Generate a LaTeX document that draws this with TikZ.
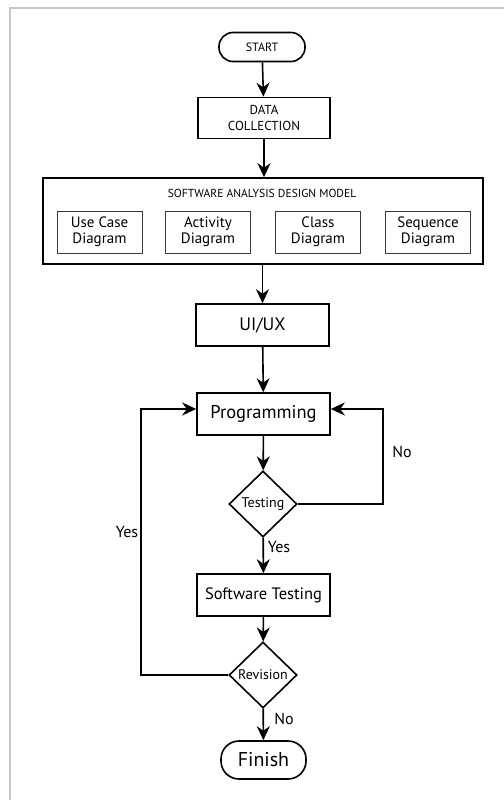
\documentclass[tikz,border=0pt]{standalone}
\usepackage{fontspec}
\setmainfont{PT Sans}
\usetikzlibrary{shapes.geometric,arrows.meta}
\definecolor{framegray}{HTML}{C8C8C8}
\definecolor{inkgray}{HTML}{3A3A3A}
\tikzset{
  box/.style={draw, line width=1.6bp, minimum width=133bp, minimum height=42bp, inner sep=2bp, align=center},
  subbox/.style={draw=inkgray, line width=1bp, minimum width=85bp, minimum height=42bp, inner sep=1bp, align=center, font=\fontsize{15bp}{16bp}\selectfont},
  term/.style={draw, line width=1.6bp, rounded corners=14bp, inner sep=0pt},
  decision/.style={draw, diamond, aspect=1, line width=1.6bp, minimum width=68bp, minimum height=66bp, inner sep=0pt, font=\fontsize{14bp}{15bp}\selectfont},
  arr/.style={line width=1.6bp, -{Stealth[length=14bp,width=13bp,inset=4.5bp]}},
  lab/.style={font=\fontsize{16bp}{17bp}\selectfont},
}
\begin{document}
\begin{tikzpicture}[x=1bp,y=-1bp]
\useasboundingbox (0,0) rectangle (504,800);
% light frame along the top and left edges
\draw[framegray, line width=1.5bp] (10,800) -- (10,8) -- (504,8);

% main column
\node[term, minimum width=86bp, minimum height=29bp, font=\fontsize{12bp}{13bp}\selectfont] (start) at (262,47) {START};
\node[box, minimum width=132bp, minimum height=41bp, font=\fontsize{13bp}{16bp}\selectfont] (data) at (264,118) {DATA\\COLLECTION};

\node[draw, line width=1.6bp, minimum width=440bp, minimum height=86bp] (model) at (263,221) {};
\node[font=\fontsize{11.6bp}{12bp}\selectfont] (modeltitle) at (262,193) {SOFTWARE ANALYSIS DESIGN MODEL};
\node[subbox] (usecase) at (99.5,232) {Use Case\\Diagram};
\node[subbox] (activity) at (208,232) {Activity\\Diagram};
\node[subbox] (class) at (318,232) {Class\\Diagram};
\node[subbox] (sequence) at (428,232) {Sequence\\Diagram};

\node[box, font=\fontsize{18bp}{20bp}\selectfont] (uiux) at (262.5,325) {UI/UX};
\node[box, font=\fontsize{18.5bp}{20bp}\selectfont] (prog) at (263.5,414) {Programming};
\node[decision] (testing) at (263,504) {Testing};
\node[box, font=\fontsize{16.5bp}{18bp}\selectfont] (swtest) at (263.5,595) {Software Testing};
\node[decision] (revision) at (263,675) {Revision};
\node[term, rounded corners=18bp, minimum width=85bp, minimum height=38bp, font=\fontsize{20bp}{22bp}\selectfont] (finish) at (263.5,760) {Finish};

% loop corners
\coordinate (rloop) at (383,409);
\coordinate (lloop) at (141,409);

% connectors
\draw[arr] (start) -- (data);
\draw[arr] (data) -- (data.south |- model.north);
\draw[arr] (model.south -| uiux.north) -- (uiux);
\draw[arr] (uiux) -- (prog);
\draw[arr] (prog) -- (testing);
\draw[arr] (testing) -- (swtest);
\draw[arr] (swtest) -- (revision);
\draw[arr] (revision) -- (finish);
\draw[arr] (testing.east) -| (rloop) -- (rloop -| prog.east);
\draw[arr] (revision.west) -| (lloop) -- (lloop -| prog.west);

% branch labels
\node[lab] (lno) at (402,452) {No};
\node[lab] (lyesl) at (127,532) {Yes};
\node[lab] (lyes) at (279,547) {Yes};
\node[lab] (lno2) at (284,719) {No};
\end{tikzpicture}
\end{document}
